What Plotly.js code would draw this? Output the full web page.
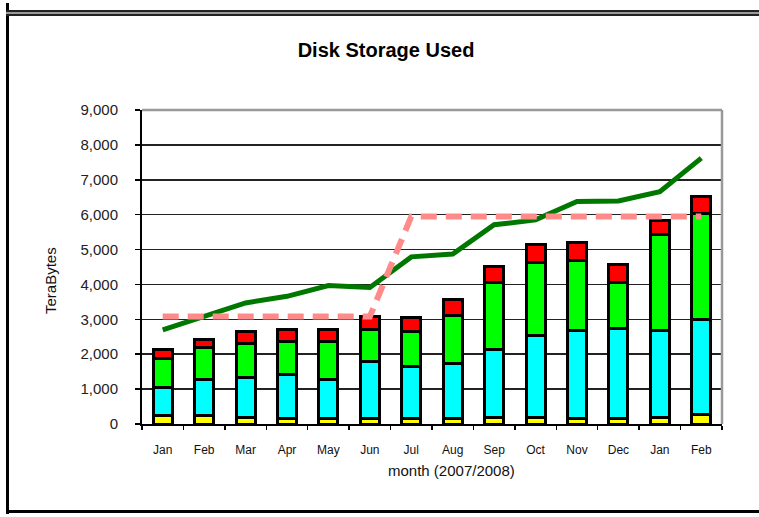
<!DOCTYPE html>
<html>
<head>
<meta charset="utf-8">
<script src="https://cdn.plot.ly/plotly-3.0.1.min.js"></script>
<style>
  html, body { margin: 0; padding: 0; background: #fff; }
  #wrap { position: relative; width: 759px; height: 517px; }
  #chart { position: absolute; left: 0; top: 0; width: 759px; height: 517px; }
  .b { position: absolute; pointer-events: none; }
</style>
</head>
<body>
<div id="wrap">
  <div id="chart"></div>
  <div class="b" style="left:6px; top:3px; width:3px; height:511px; background:#000;"></div>
  <div class="b" style="left:6px; top:10px; width:753px; height:2px; background:#222;"></div>
  <div class="b" style="left:6px; top:12px; width:753px; height:2px; background:#999;"></div>
  <div class="b" style="left:6px; top:14px; width:753px; height:2px; background:#222;"></div>
  <div class="b" style="left:6px; top:510px; width:753px; height:3px; background:#000;"></div>
</div>
<script>
// ---- data ----
const periods = ['2007-01','2007-02','2007-03','2007-04','2007-05','2007-06','2007-07',
                 '2007-08','2007-09','2007-10','2007-11','2007-12','2008-01','2008-02'];
const monthLabels = ['Jan','Feb','Mar','Apr','May','Jun','Jul','Aug','Sep','Oct','Nov','Dec','Jan','Feb'];

const seriesYellow = [250, 250, 200, 150, 150, 150, 150, 150, 200, 200, 150, 150, 200, 270];
const seriesCyan   = [800, 1020, 1140, 1280, 1120, 1640, 1500, 1570, 1930, 2340, 2520, 2600, 2470, 2720];
const seriesGreen  = [820, 910, 980, 940, 1100, 910, 990, 1390, 1940, 2090, 2020, 1320, 2770, 3030];
const seriesRed    = [260, 230, 330, 350, 350, 380, 410, 450, 450, 510, 500, 500, 390, 500];

const capacityLine = [2700, 3080, 3470, 3660, 3970, 3910, 4790, 4870, 5710, 5850, 6380, 6390, 6660, 7620];
const limitLine    = [3080, 3080, 3080, 3080, 3080, 3080, 5950, 5950, 5950, 5950, 5950, 5950, 5950, 5950];

const yTicks = [0, 1000, 2000, 3000, 4000, 5000, 6000, 7000, 8000, 9000];

// ---- traces ----
function barTrace(vals, color) {
  return {
    type: 'bar', x: periods, y: vals,
    marker: { color: color, line: { color: '#000', width: 3 } },
    hoverinfo: 'y'
  };
}
const traces = [
  barTrace(seriesYellow, '#ffff00'),
  barTrace(seriesCyan, '#00ffff'),
  barTrace(seriesGreen, '#00ff00'),
  barTrace(seriesRed, '#ff0000'),
  {
    type: 'scatter', mode: 'lines', x: periods, y: capacityLine,
    line: { color: '#007800', width: 5 }
  },
  {
    type: 'scatter', mode: 'lines', x: periods, y: limitLine,
    line: { color: '#ff8a8a', width: 6, dash: '16px,9px' }
  }
];

const fontFam = 'Liberation Sans, Arial, sans-serif';

const layout = {
  width: 759, height: 517,
  margin: { l: 142, r: 37, t: 110, b: 93 },
  paper_bgcolor: '#fff', plot_bgcolor: '#fff',
  showlegend: false,
  barmode: 'stack',
  bargap: 0.54,
  font: { family: fontFam, color: '#000' },
  title: {
    text: '<b>Disk Storage Used</b>',
    font: { family: fontFam, size: 20, color: '#000' },
    x: 386 / 759, xanchor: 'center', xref: 'container',
    y: 1 - 50 / 517, yanchor: 'middle', yref: 'container'
  },
  xaxis: {
    type: 'category',
    tickmode: 'array', tickvals: periods, ticktext: monthLabels,
    tickson: 'boundaries',
    ticks: 'outside', ticklen: 4, tickwidth: 1.5, tickcolor: '#000',
    showline: true, linecolor: '#000', linewidth: 2,
    showgrid: false, zeroline: false,
    tickfont: { family: fontFam, size: 12, color: '#111' },
    ticklabelstandoff: 14,
    range: [-0.5, 13.5]
  },
  yaxis: {
    range: [0, 9000],
    tickmode: 'array', tickvals: yTicks,
    tickformat: ',d',
    ticks: 'outside', ticklen: 5, tickwidth: 1.5, tickcolor: '#000',
    showline: true, linecolor: '#000', linewidth: 2,
    showgrid: true, gridcolor: '#222', gridwidth: 1.5,
    zeroline: false,
    tickfont: { family: fontFam, size: 15, color: '#222' },
    ticklabelstandoff: 14
  },
  shapes: [
    { type: 'line', xref: 'paper', yref: 'paper', x0: 0, x1: 1, y0: 1, y1: 1,
      line: { color: '#999', width: 2.5 } },
    { type: 'line', xref: 'paper', yref: 'paper', x0: 1, x1: 1, y0: 0, y1: 1,
      line: { color: '#999', width: 2.5 } }
  ],
  annotations: [
    { text: 'month (2007/2008)', xref: 'paper', yref: 'paper',
      x: (451 - 142) / 580, y: (424 - 470) / 314, xanchor: 'center', yanchor: 'middle',
      showarrow: false, font: { family: fontFam, size: 15, color: '#111' } },
    { text: 'TeraBytes', xref: 'paper', yref: 'paper', textangle: -90,
      x: (50 - 142) / 580, y: (424 - 281) / 314, xanchor: 'center', yanchor: 'middle',
      showarrow: false, font: { family: fontFam, size: 15, color: '#111' } }
  ]
};

Plotly.newPlot('chart', traces, layout, { displayModeBar: false, staticPlot: true });
</script>
</body>
</html>
